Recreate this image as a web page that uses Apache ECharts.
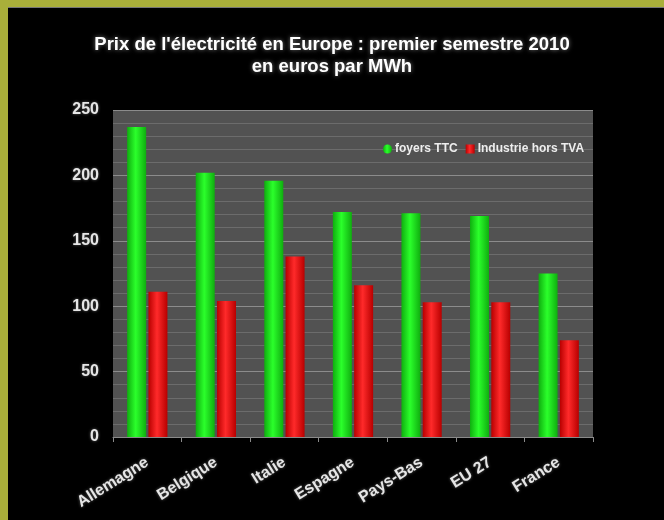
<!DOCTYPE html>
<html>
<head>
<meta charset="utf-8">
<script src="https://cdn.jsdelivr.net/npm/echarts@6/dist/echarts.min.js"></script>
<style>
  html, body { margin: 0; padding: 0; background: #000; }
  #chart { width: 664px; height: 520px; }
</style>
</head>
<body>
<div id="chart"></div>
<script>
const countries = ["Allemagne", "Belgique", "Italie", "Espagne", "Pays-Bas", "EU 27", "France"];
const foyersTTC = [237, 202, 196, 172, 171, 169, 125];
const industrieHorsTVA = [111, 104, 138, 116, 103, 103, 74];
const yTicks = { min: 0, max: 250, interval: 50 };

const olive = "#a9af3a";

function barGradient(edge, mid) {
  return new echarts.graphic.LinearGradient(0, 0, 1, 0, [
    { offset: 0, color: edge },
    { offset: 0.45, color: mid },
    { offset: 1, color: edge }
  ]);
}

const chart = echarts.init(document.getElementById("chart"));
chart.setOption({
  backgroundColor: "#000",
  animation: false,
  graphic: [
    { type: "rect", shape: { x: 0, y: 0, width: 664, height: 7 }, style: { fill: olive } },
    { type: "rect", shape: { x: 0, y: 0, width: 8, height: 520 }, style: { fill: olive } },
    { type: "rect", shape: { x: 8, y: 7, width: 656, height: 1 }, style: { fill: "#777" } }
  ],
  title: {
    text: "Prix de l'électricité en Europe : premier semestre 2010\nen euros par MWh",
    left: "center",
    top: 29,
    textStyle: {
      color: "#fff",
      fontFamily: "Liberation Sans, Arial",
      fontWeight: "bold",
      fontSize: 18.5,
      lineHeight: 22,
      textShadowColor: "rgba(200,200,200,0.6)",
      textShadowBlur: 4
    }
  },
  legend: {
    top: 138,
    left: 378,
    itemWidth: 9,
    itemHeight: 9,
    itemGap: 8,
    textStyle: { color: "#eee", fontFamily: "Liberation Sans, Arial", fontWeight: "bold", fontSize: 12, padding: [0, 0, 0, -2] },
    data: [
      { name: "foyers TTC", icon: "circle" },
      { name: "Industrie hors TVA", icon: "rect" }
    ]
  },
  grid: {
    left: 113,
    right: 71,
    top: 110,
    bottom: 83,
    show: true,
    backgroundColor: "#525252",
    borderWidth: 0
  },
  xAxis: {
    type: "category",
    data: countries,
    axisLine: { lineStyle: { color: "#8a8a8a", width: 1 } },
    axisTick: { show: true, length: 5, lineStyle: { color: "#8a8a8a" } },
    axisLabel: {
      rotate: 32,
      interval: 0,
      color: "#e6e6e6",
      fontFamily: "Liberation Sans, Arial",
      fontWeight: "bold",
      fontSize: 16,
      margin: 24,
      textShadowColor: "rgba(200,200,200,0.5)",
      textShadowBlur: 3
    }
  },
  yAxis: {
    type: "value",
    min: yTicks.min,
    max: yTicks.max,
    interval: yTicks.interval,
    axisLine: { show: false },
    axisTick: { show: false },
    axisLabel: {
      color: "#e6e6e6",
      fontFamily: "Liberation Sans, Arial",
      fontWeight: "bold",
      fontSize: 16,
      margin: 14,
      textShadowColor: "rgba(200,200,200,0.5)",
      textShadowBlur: 3
    },
    splitLine: { lineStyle: { color: "#8c8c8c", width: 1 } },
    minorTick: { show: false, splitNumber: 5 },
    minorSplitLine: { show: true, lineStyle: { color: "#6c6c6c", width: 1 } }
  },
  series: [
    {
      name: "foyers TTC",
      type: "bar",
      data: foyersTTC,
      barWidth: 19,
      barGap: "12%",
      itemStyle: { color: barGradient("#0fae0f", "#2bff2b") }
    },
    {
      name: "Industrie hors TVA",
      type: "bar",
      data: industrieHorsTVA,
      barWidth: 19,
      itemStyle: { color: barGradient("#b80000", "#ff2a2a") }
    }
  ]
});
</script>
</body>
</html>
